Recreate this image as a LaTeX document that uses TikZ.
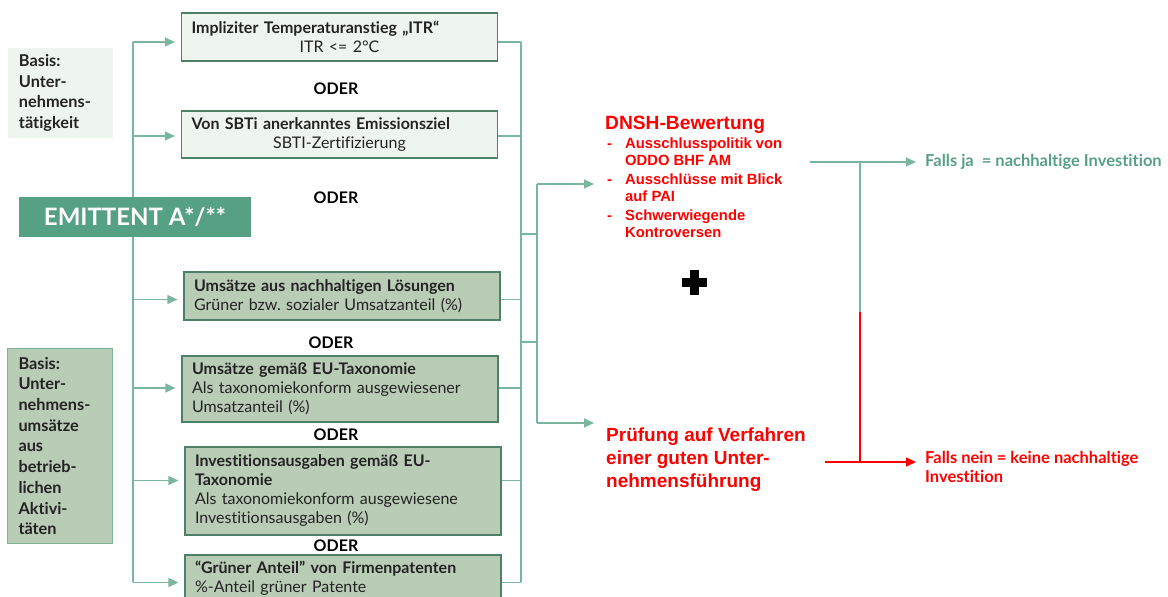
\documentclass[tikz,border=0pt]{standalone}
\usepackage{fontspec}
\setmainfont{Lato}[Ligatures=NoCommon]
\newfontfamily\arialfont{Liberation Sans}
\usepackage{xcolor}
\usepackage{tikz}
\usetikzlibrary{arrows.meta,positioning,calc}
\frenchspacing

\definecolor{emgreen}{RGB}{86,160,131}
\definecolor{linegreen}{RGB}{122,182,158}
\definecolor{boxedge}{RGB}{78,128,104}
\definecolor{palefill}{RGB}{238,244,238}
\definecolor{sagefill}{RGB}{185,204,181}
\definecolor{sageedge}{RGB}{128,178,148}
\definecolor{dnshred}{RGB}{255,0,0}
\definecolor{textgray}{RGB}{35,35,35}

\begin{document}
\begin{tikzpicture}[x=1pt, y=-1pt,
  font=\fontsize{16}{19}\selectfont,
  critbox/.style={draw=boxedge, line width=1.2pt, text=textgray, inner xsep=10pt,
    inner ysep=0pt, text width=296pt, align=left},
  basisbox/.style={text=textgray, font=\fontsize{16.3}{20.7}\selectfont\bfseries,
    inner xsep=11pt, inner ysep=0pt, text width=83pt, align=left},
  oder/.style={font=\fontsize{16}{18}\selectfont\bfseries, text=black},
  wire/.style={draw=linegreen, line width=1.2pt},
  arr/.style={draw=linegreen, line width=1.2pt, -{Triangle[length=10pt,width=9pt]},
    fill=emgreen},
  redwire/.style={draw=dnshred, line width=1.5pt},
  redtext/.style={text=dnshred, inner sep=0pt, align=left}]
\clip (0,0) rectangle (1168,597);

% left labels
\node[basisbox, fill=palefill, minimum width=105pt, minimum height=90pt] (basis1) at (60.5,93)
  {Basis:\\Unter-\\nehmens-\\tätigkeit};
\node[basisbox, fill=sagefill, draw=sageedge, line width=1pt, minimum width=104pt,
  minimum height=195pt] (basis2) at (60,446)
  {Basis:\\Unter-\\nehmens-\\umsätze\\aus\\betrieb-\\lichen\\Aktivi-\\täten};

% spines
\coordinate (ltop) at (133,42);
\coordinate (lbot) at (133,582);
\coordinate (rtop) at (521,42);
\coordinate (rbot) at (521,582);
\draw[wire] (ltop) -- (lbot);
\draw[wire] (rtop) -- (rbot);

\node[fill=emgreen, text=white, font=\fontsize{24}{26}\selectfont\bfseries,
  minimum width=232pt, minimum height=40pt] (emit) at (135,217) {EMITTENT A*/**};

% criteria
\node[critbox, fill=palefill, minimum height=48pt] (b1) at (339.5,37)
  {\textbf{Impliziter Temperaturanstieg „ITR“}\\\makebox[\hsize]{ITR <= 2°C}};
\node[oder] (o1) at (336,89) {ODER};
\node[critbox, fill=palefill, minimum height=47pt] (b2) at (339.5,134.5)
  {\textbf{Von SBTi anerkanntes Emissionsziel}\\\makebox[\hsize]{SBTI-Zertifizierung}};
\node[oder] (o2) at (336,198) {ODER};
\node[critbox, fill=sagefill, minimum height=48pt] (b3) at (342,296)
  {\textbf{Umsätze aus nachhaltigen Lösungen}\\Grüner bzw. sozialer Umsatzanteil (\%)};
\node[oder] (o3) at (331,343) {ODER};
\node[critbox, fill=sagefill, minimum height=66pt] (b4) at (340,389)
  {\textbf{Umsätze gemäß EU-Taxonomie}\\Als taxonomiekonform ausgewiesener\\Umsatzanteil (\%)};
\node[oder] (o4) at (336,435) {ODER};
\node[critbox, fill=sagefill, minimum height=88pt] (b5) at (343,491)
  {\textbf{Investitionsausgaben gemäß EU-}\\\textbf{Taxonomie}\\Als taxonomiekonform ausgewiesene\\Investitionsausgaben (\%)};
\node[oder] (o5) at (336,546) {ODER};
\node[critbox, fill=sagefill, minimum height=47pt] (b6) at (343,578.5)
  {\textbf{“Grüner Anteil” von Firmenpatenten}\\\%-Anteil grüner Patente};

\foreach \b/\s in {b1/-5,b2/-1.5,b3/-3.5,b4/1,b5/10.5,b6/-4}{
  \draw[arr] ([yshift=\s pt]\b.west -| ltop) -- ([xshift=-6pt, yshift=\s pt]\b.west);
  \draw[wire] ([yshift=\s pt]\b.east) -- ([yshift=\s pt]\b.east -| rtop);
}

% second spine
\coordinate (jt) at (537,184);
\coordinate (jb) at (537,423);
\draw[wire] (jt) -- (jb);
\draw[wire] (521,234) -- (537,234);
\draw[wire] (521,342) -- (537,342);

% DNSH and governance
\node[redtext, anchor=north west, font=\arialfont\bfseries\fontsize{14.8}{17}\selectfont] (dnsh) at (605,116)
  {{\fontsize{19.2}{21}\selectfont DNSH-Bewertung}\\[2pt]
   \hspace*{2pt}\makebox[18pt][l]{-}Ausschlusspolitik von\\
   \hspace*{20pt}ODDO BHF AM\\[2pt]
   \hspace*{2pt}\makebox[18pt][l]{-}Ausschlüsse mit Blick\\
   \hspace*{20pt}auf PAI\\[2pt]
   \hspace*{2pt}\makebox[18pt][l]{-}Schwerwiegende\\
   \hspace*{20pt}Kontroversen};
\node[redtext, anchor=west, font=\arialfont\bfseries\fontsize{19}{23}\selectfont] (pruef) at (606,460)
  {Prüfung auf Verfahren\\einer guten Unter-\\nehmensführung};
\draw[arr] (jt) -- ([xshift=-11pt]jt -| dnsh.west);
\draw[arr] (jb) -- ([xshift=-12pt]jb -| pruef.west);

% plus
\fill (681.5,277.5) rectangle (706.5,286.5);
\fill (689.5,269.5) rectangle (698.5,294.5);

% outcome
\node[anchor=west, inner sep=0pt, text=emgreen, font=\fontsize{16.5}{19}\selectfont\bfseries] (ja) at (925,162)
  {Falls ja\ \ = nachhaltige Investition};
\node[anchor=north west, inner sep=0pt, align=left, text=dnshred,
  font=\fontsize{16.5}{19}\selectfont\bfseries] (nein) at (925,451)
  {Falls nein = keine nachhaltige\\Investition};
\coordinate (jastart) at (810,162);
\coordinate (neinstart) at (825,462);
\coordinate (forkmid) at (860,312);
\draw[arr] (jastart) -- ([xshift=-9pt]jastart -| ja.west);
\draw[redwire, -{Triangle[length=10pt,width=9pt]}] (neinstart) -- ([xshift=-9pt]neinstart -| nein.west);
\draw[wire] (jastart -| forkmid) -- (forkmid);
\draw[redwire] (forkmid) -- (neinstart -| forkmid);
\end{tikzpicture}
\end{document}
